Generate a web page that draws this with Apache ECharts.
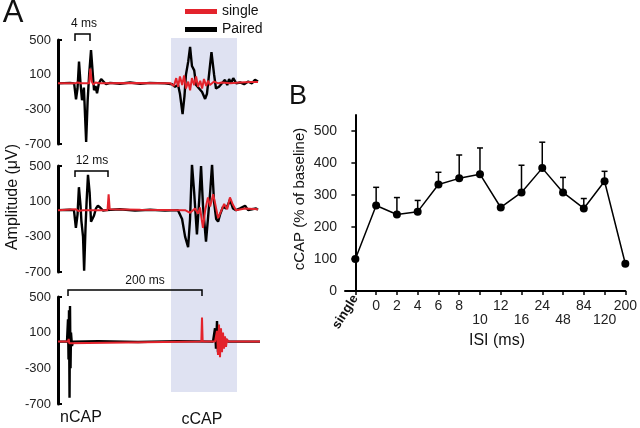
<!DOCTYPE html>
<html><head><meta charset="utf-8">
<script src="https://cdn.jsdelivr.net/npm/echarts@6/dist/echarts.min.js"></script>
<style>html,body{margin:0;padding:0;background:#fff}#c{width:640px;height:428px}</style>
</head><body><div id="c"></div>
<script>
const FONT = "'Liberation Sans', Arial, sans-serif";

// ---------- Panel A : traces (time in ms, amplitude in µV) ----------
const ampTicks = [-700, -300, 100, 500];
const p1Black = [[0,0],[3.2,5],[4.3,0],[4.8,-185],[5.2,-60],[5.6,250],[6.0,0],[6.4,-195],[6.9,-50],[7.5,-675],[7.9,-200],[8.3,100],[8.8,385],[9.2,150],[9.6,-80],[10.0,-30],[10.4,-115],[10.9,0],[11.5,50],[12.0,30],[12.8,-10],[13.9,5],[16.5,-5],[19.2,10],[21.9,-5],[24.5,5],[28.5,0],[30.4,-10],[31.2,-40],[32.0,-20],[32.5,-120],[33.2,-355],[33.7,-150],[34.1,100],[34.7,250],[35.2,420],[35.7,200],[36.3,150],[36.8,-20],[37.6,-60],[38.4,-100],[39.2,-180],[39.7,-120],[40.3,120],[40.9,360],[41.6,100],[42.1,-60],[42.9,-40],[43.7,0],[44.5,40],[45.1,-20],[45.6,50],[46.1,0],[46.7,60],[47.5,0],[48.5,10],[49.6,-10],[50.7,20],[51.7,0],[52.5,40],[53.3,20]];
const p1Red = [[0,0],[4.5,0],[4.8,-20],[5.2,10],[6,0],[8.3,0],[8.6,170],[9.0,20],[9.4,-15],[10,10],[11,0],[20,5],[30,0],[30.9,-30],[31.5,60],[32.0,-40],[32.5,80],[33.1,-20],[33.6,90],[34.1,-60],[34.7,20],[35.2,-80],[35.7,60],[36.3,-20],[36.8,80],[37.3,-40],[37.9,30],[38.4,-60],[38.9,50],[39.5,-30],[40.0,30],[40.5,-20],[41.6,20],[42.7,0],[43.7,10],[45.9,0],[48.5,10],[51.2,15],[53.3,15]];
const p2Black = [[0,0],[4.4,5],[5.8,0],[6.5,-200],[7.1,-50],[7.6,260],[8.2,50],[8.5,-120],[9.1,-300],[9.5,-685],[10.0,-200],[10.4,100],[10.9,400],[11.5,200],[12.0,-130],[12.5,-100],[13.1,-60],[13.8,20],[14.5,50],[15.3,30],[16.4,-5],[17.5,0],[22.5,10],[28,-5],[33.5,5],[38.9,-5],[43.6,0],[45.1,-100],[46.2,-300],[47.3,-420],[48,-100],[48.7,520],[49.5,200],[50.5,-275],[51.3,100],[52,500],[52.7,50],[53.8,-355],[54.5,-100],[55.3,200],[56,520],[56.7,100],[57.5,-100],[58.2,-130],[58.9,-50],[60,40],[61.1,20],[61.8,60],[62.5,120],[63.6,20],[64.7,0],[66.2,20],[68,50],[69.1,0],[70.5,10],[72,20],[72.7,5]];
const p2Red = [[0,0],[6.5,10],[7.5,-10],[9,0],[18.0,0],[18.4,180],[18.8,10],[19.5,0],[30,5],[46.2,0],[48,-30],[49.8,20],[50.9,-40],[51.6,30],[52.7,-200],[53.5,0],[54.5,145],[55.3,40],[56.4,180],[57.1,80],[58.2,-90],[58.9,-40],[60.4,70],[61.5,10],[62.5,145],[63.6,60],[64.7,0],[68,20],[72.7,10]];
const p3Black = [[0,0],[13.5,0],[15,250],[15.8,-200],[16.5,350],[17.3,-630],[18,400],[18.8,-300],[19.5,100],[21,-50],[22.5,0],[60,5],[120,-5],[180,5],[232.5,0],[235.5,150],[237,-80],[238.5,230],[240,-120],[241.5,150],[243,-100],[244.5,80],[247.5,-50],[250.5,30],[255,0],[303,0]];
const p3Red = [[0,0],[15,0],[16,30],[17,-20],[18,0],[215,0],[216,270],[217,0],[235.5,0],[238.5,120],[240,-150],[241.5,190],[243,-175],[244.5,150],[246,-120],[247.5,100],[249,-80],[250.5,60],[252,-60],[253.5,30],[255,0],[303,0]];
const panelDurations = [53.3, 72.7, 303];

// ---------- Panel B : cCAP vs ISI ----------
const isiLabels = ['single','0','2','4','6','8','10','12','16','24','48','84','120','200'];
const lowerRow = ['10','16','48','120'];
const cCapMean = [100,267,239,248,333,352,365,261,308,384,308,258,343,85];
const cCapSem  = [0,57,53,35,38,73,82,0,85,81,47,31,31,0];
const cCapTicks = [0,100,200,300,400,500];

const RED = '#e3232c', BLACK = '#000';
const chart = echarts.init(document.getElementById('c'));

const gridsA = [
  {left:58, top:40, width:200, height:104},
  {left:58, top:166, width:200, height:106},
  {left:58, top:297, width:202, height:107}
];
const traces = [[p1Black,p1Red],[p2Black,p2Red],[p3Black,p3Red]];

const grid = gridsA.concat([{left:345, top:115, right:12, bottom:137}]);
const xAxis = [], yAxis = [], series = [];
gridsA.forEach((g,i)=>{
  xAxis.push({gridIndex:i, type:'value', min:0, max:panelDurations[i], show:false});
  yAxis.push({gridIndex:i, type:'value', min:-700, max:500,
    axisLine:{show:true, lineStyle:{color:'#000', width:3}},
    axisTick:{show:true, inside:true, length:4, customValues:[-700,500], lineStyle:{color:'#000', width:2}},
    axisLabel:{customValues:ampTicks, fontSize:13, color:'#222', fontFamily:FONT, margin:7, showMinLabel:true, showMaxLabel:true},
    splitLine:{show:false}});
  series.push({type:'line', name:'Paired', xAxisIndex:i, yAxisIndex:i, data:traces[i][0], showSymbol:false, symbol:'none',
    lineStyle:{color:BLACK, width:2.4}, itemStyle:{color:BLACK}, z:3});
  series.push({type:'line', name:'single', xAxisIndex:i, yAxisIndex:i, data:traces[i][1], showSymbol:false, symbol:'none',
    lineStyle:{color:RED, width:2}, itemStyle:{color:RED}, z:4});
});

const idx = isiLabels.map((_,i)=>i);
const upperIdx = idx.filter(i=>i>0 && !lowerRow.includes(isiLabels[i]));
const lowerIdx = idx.filter(i=>lowerRow.includes(isiLabels[i]));
const labelFmt = v=>isiLabels[Math.round(v)];
xAxis.push({gridIndex:3, type:'value', min:-0.5, max:13, position:'bottom',
  axisLine:{show:true, onZero:false, lineStyle:{color:'#000', width:2}},
  axisTick:{show:true, length:4, customValues:idx, lineStyle:{color:'#000', width:1.5}},
  axisLabel:{customValues:upperIdx, fontSize:14, color:'#222', fontFamily:FONT, margin:8,
    showMinLabel:true, showMaxLabel:true, formatter:labelFmt},
  splitLine:{show:false}});
xAxis.push({gridIndex:3, type:'value', min:-0.5, max:13, position:'bottom',
  axisLine:{show:false, onZero:false}, axisTick:{show:false},
  axisLabel:{customValues:lowerIdx, fontSize:14, color:'#222', fontFamily:FONT, margin:22,
    showMinLabel:true, showMaxLabel:true, formatter:labelFmt},
  splitLine:{show:false}});
xAxis.push({gridIndex:3, type:'value', min:-0.5, max:13, position:'bottom',
  axisLine:{show:false, onZero:false}, axisTick:{show:false},
  axisLabel:{customValues:[0], rotate:58, fontSize:13, fontWeight:'bold', color:'#111', fontFamily:FONT, margin:5,
    showMinLabel:true, formatter:labelFmt},
  splitLine:{show:false}});
yAxis.push({gridIndex:3, type:'value', min:0, max:550,
  axisLine:{show:true, lineStyle:{color:'#000', width:2}},
  axisTick:{show:true, length:4, customValues:cCapTicks, lineStyle:{color:'#000', width:1.5}},
  axisLabel:{customValues:cCapTicks, fontSize:14, color:'#222', fontFamily:FONT, margin:8, showMinLabel:true},
  splitLine:{show:false}});

series.push({type:'custom', xAxisIndex:3, yAxisIndex:3, z:3,
  data:cCapMean.map((m,i)=>[i,m,m+cCapSem[i]]),
  renderItem:(params, api)=>{
    const p0 = api.coord([api.value(0), api.value(1)]);
    const p1 = api.coord([api.value(0), api.value(2)]);
    const st = {stroke:'#000', lineWidth:1.5};
    return {type:'group', children:[
      {type:'line', shape:{x1:p0[0], y1:p0[1], x2:p1[0], y2:p1[1]}, style:st},
      {type:'line', shape:{x1:p1[0]-3, y1:p1[1], x2:p1[0]+3, y2:p1[1]}, style:st}
    ]};
  }});
series.push({type:'line', xAxisIndex:3, yAxisIndex:3, z:5, data:cCapMean.map((m,i)=>[i,m]),
  symbol:'circle', symbolSize:8, lineStyle:{color:'#000', width:1.5}, itemStyle:{color:'#000'}});

const txt = (x,y,t,size,extra)=>Object.assign({type:'text', x, y, z:10,
  style:{text:t, font:`${size}px ${FONT}`, fill:'#111', align:'center', verticalAlign:'middle'}}, extra||{});
const bracket = (pts)=>({type:'polyline', z:10, shape:{points:pts}, style:{stroke:'#000', lineWidth:1.5, fill:null}});

chart.setOption({
  animation:false,
  backgroundColor:'#fff',
  grid, xAxis, yAxis, series,
  legend:{data:['single','Paired'], orient:'vertical', left:185, top:4, padding:0, icon:'rect', itemWidth:32, itemHeight:5, itemGap:3,
    textStyle:{fontSize:14, color:'#111', fontFamily:FONT, lineHeight:15}},
  graphic:[
    {type:'rect', z:-10, silent:true, shape:{x:171, y:38, width:66, height:354}, style:{fill:'#dfe2f2'}},
    bracket([[75,41],[75,34],[90,34],[90,41]]),
    bracket([[75,177],[75,171],[108,171],[108,177]]),
    bracket([[68,296],[68,290],[202,290],[202,296]]),
    txt(84,24,'4 ms',12),
    txt(92,161,'12 ms',12),
    txt(145,281,'200 ms',12),
    txt(13,13,'A',31),
    txt(298,97,'B',27),
    txt(81,418,'nCAP',16),
    txt(202,420,'cCAP',16),
    txt(13,197,'Amplitude (μV)',16,{rotation:Math.PI/2}),
    txt(300,199,'cCAP (% of baseline)',15,{rotation:Math.PI/2}),
    txt(497,341,'ISI (ms)',16)
  ]
});
</script></body></html>
